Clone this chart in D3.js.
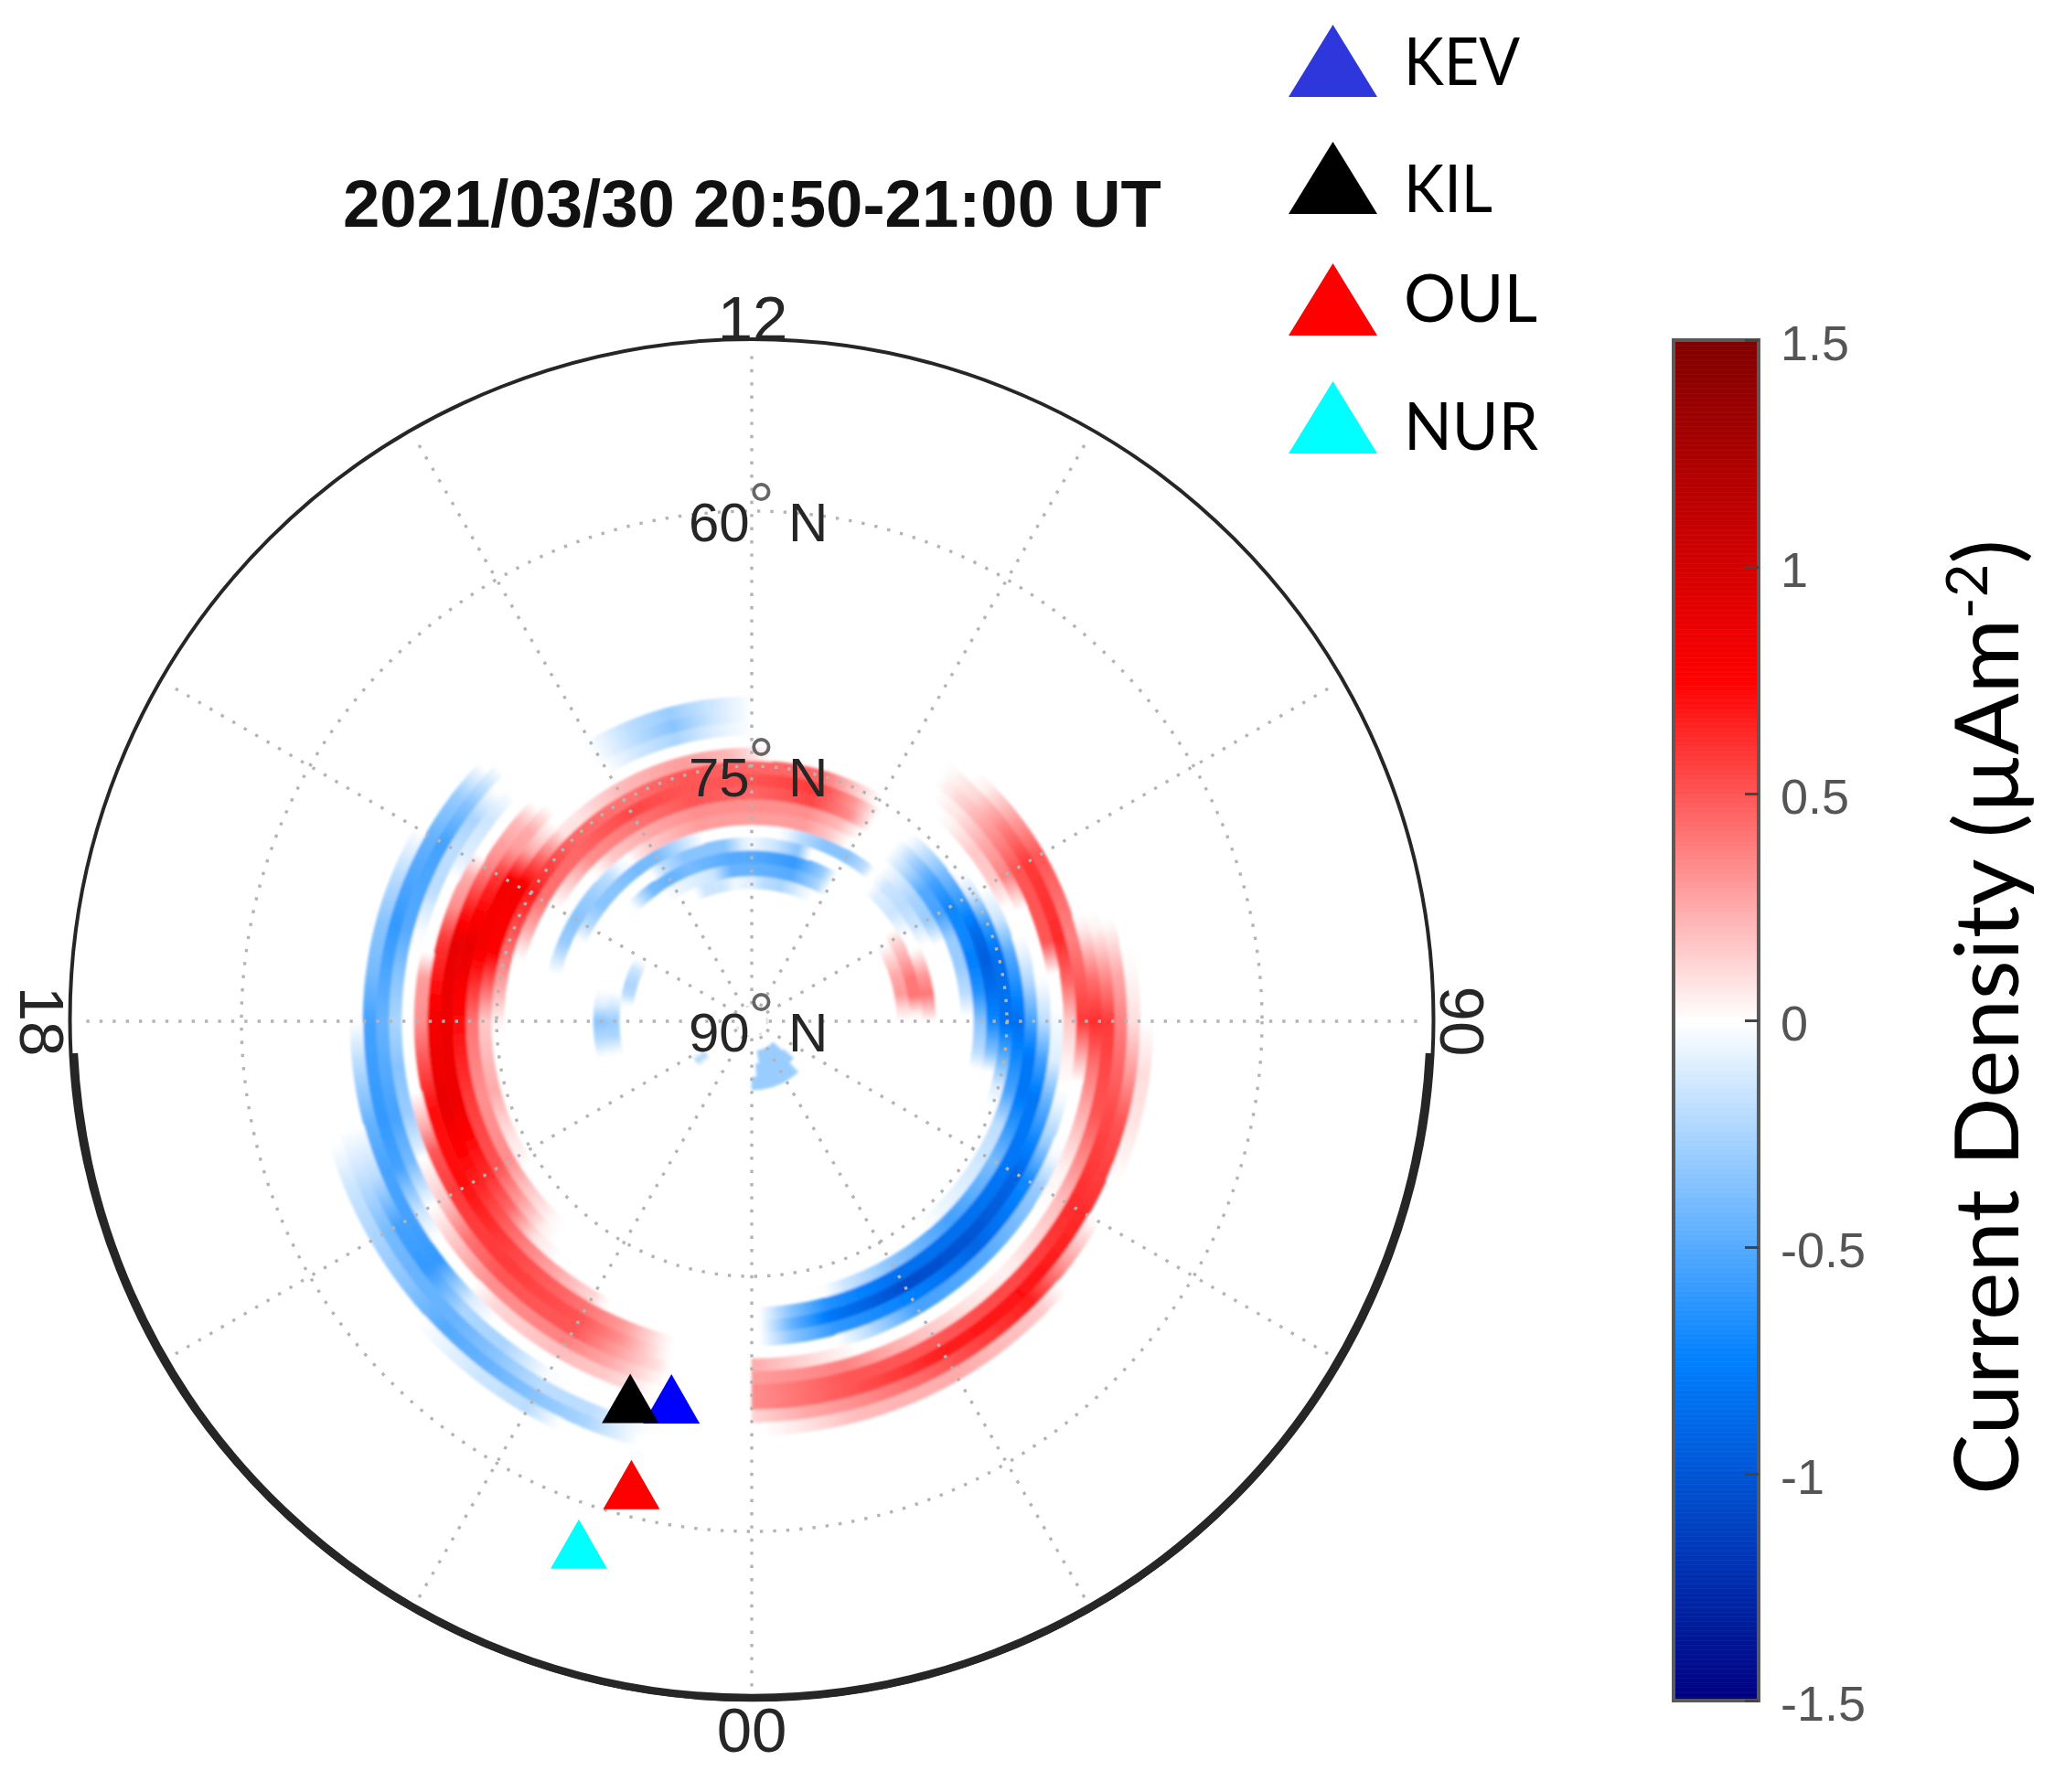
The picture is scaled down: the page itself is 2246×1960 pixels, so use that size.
<!DOCTYPE html>
<html><head><meta charset="utf-8">
<script src="https://cdnjs.cloudflare.com/ajax/libs/d3/7.8.5/d3.min.js"></script>
<style>html,body{margin:0;padding:0;background:#fff}svg{display:block}</style>
</head><body><svg id="c" width="2246" height="1960"></svg>
<script>
const titleText = "2021/03/30 20:50-21:00 UT";
const hourLabels = [["12",12],["18",18],["00",0],["06",6]];
const latLabels = [60,75,90];
const gridLats = [60,75];
const gridHours = d3.range(0,24,2);
const colorStops = [-1.5,-0.75,0,0.75,1.5];
const colorValues = ["#000080","#0080ff","#ffffff","#ff0000","#800000"];
const colorTicks = [-1.5,-1,-0.5,0,0.5,1,1.5];
const stationNames = ["KEV","KIL","OUL","NUR"];
const stationColors = ["#0000ff","#000000","#ff0000","#00ffff"];
const legendColors = ["#2d37dc","#000000","#ff0000","#00ffff"];
const stationLat = [67.3,66.7,61.85,57.63];
const stationMlt = [23.2,22.81,23.03,22.78];
const ringStep = 0.7527;
const ringLats = [87.85,87.10,86.34,82.58,81.83,81.08,80.32,79.57,78.82,78.06,77.31,76.56,75.81,75.05,74.30,73.55,72.80,72.04,71.29,70.54,69.78,69.03,68.28,67.53,66.77,66.02,65.27,64.52,63.76];
// each ring: [MLT hour, current density] samples
const ringSamples = [
 [[0.6,0],[0.75,-0.3],[3.05,-0.3],[3.15,0]],
 [[0.3,0],[0.4,-0.3],[3.2,-0.3],[3.35,0]],
 [[0,-0.3],[2.8,-0.3],[2.9,0],[20,0],[20.4,-0.25],[20.8,0]],
 [[16.1,0],[16.4,-0.15],[16.9,-0.25],[17.2,-0.2],[17.5,-0.02],[17.6,0]],
 [[10.3,0],[10.7,-0.1],[11.2,-0.25],[11.7,-0.2],[12,-0.1],[12.5,-0.05],[12.8,-0.15],[13.3,-0.15],[13.6,0],[17.2,0],[17.5,-0.1],[18,-0.3],[18.4,-0.25],[18.8,-0.05],[19,0]],
 [[6,0],[6.3,0.1],[6.7,0.3],[7.2,0.25],[7.7,0.1],[8,0],[10,0],[10.3,-0.25],[11,-0.5],[12,-0.45],[12.5,-0.45],[13,-0.15],[13.5,-0.1],[14,-0.05],[14.3,0],[17.2,0],[17.6,-0.1],[18,-0.35],[18.5,-0.2],[18.9,0]],
 [[6,0],[6.2,0.05],[6.6,0.4],[7,0.4],[7.5,0.25],[8,0.1],[8.2,0],[10,0],[10.3,-0.3],[11,-0.6],[11.5,-0.55],[12,-0.5],[12.5,-0.5],[13,-0.45],[13.5,-0.4],[14,-0.45],[14.5,-0.4],[15,-0.05],[15.1,0]],
 [[6,0],[6.3,0.2],[6.6,0.4],[7,0.3],[7.4,0.1],[7.6,0],[7.9,0],[8.1,-0.05],[8.5,-0.15],[9,-0.1],[9.25,0],[10.7,0],[11,-0.35],[11.5,-0.15],[12,-0.05],[12.2,-0.1],[12.6,-0.35],[13,-0.35],[13.5,-0.35],[14,-0.2],[14.3,0]],
 [[7.6,0],[8,-0.15],[8.5,-0.2],[9,-0.15],[9.3,0],[9.4,0],[9.6,-0.2],[10,-0.35],[10.5,-0.35],[11,-0.2],[11.3,-0.05],[11.5,0],[13,0],[13.5,-0.2],[14,-0.4],[14.5,-0.4],[15,-0.35],[15.5,-0.35],[16,-0.2],[16.3,-0.02],[16.4,0]],
 [[7.5,0],[7.8,-0.2],[8,-0.3],[8.5,-0.25],[9,-0.1],[9.3,0],[10.1,0],[10.5,0.16],[11,0.29],[12,0.29],[13,0.29],[14,0.16],[14.4,0.04],[14.45,0],[14.7,-0.05],[15,-0.2],[15.5,-0.3],[16,-0.35],[16.5,-0.3],[16.9,-0.1],[17.1,0]],
 [[6.1,0],[6.5,-0.2],[7,-0.3],[7.5,-0.3],[8,-0.55],[8.5,-0.5],[9,-0.2],[9.3,-0.05],[9.4,0],[10,0],[10.4,0.2],[11,0.33],[12,0.33],[13,0.33],[14,0.25],[14.7,0.16],[15,0.04],[15.2,0]],
 [[5.2,0],[5.5,-0.2],[6,-0.35],[6.5,-0.65],[7,-0.75],[7.5,-0.7],[8,-0.7],[8.5,-0.55],[9,-0.25],[9.3,-0.05],[9.4,0],[9.9,0],[10.3,0.33],[11,0.54],[12,0.45],[13,0.5],[14,0.41],[15,0.33],[15.5,0.16],[16,0]],
 [[5.2,0],[5.5,-0.35],[6,-0.7],[6.5,-0.85],[7,-0.95],[7.5,-0.85],[8,-0.6],[8.5,-0.4],[9,-0.15],[9.3,0],[9.9,0],[10.3,0.29],[11,0.58],[12,0.5],[13,0.5],[14,0.54],[15,0.45],[16,0.41],[16.5,0.25],[17,0]],
 [[4.7,0],[5,-0.1],[5.5,-0.5],[6,-0.85],[7,-0.85],[7.5,-0.6],[8,-0.15],[8.3,-0.02],[8.5,0],[10,0],[10.4,0.16],[11,0.45],[12,0.45],[13,0.5],[14,0.41],[15,0.45],[16,0.66],[17,0.41],[17.5,0.25],[18,0.04],[18.2,0]],
 [[2.7,0],[3,-0.05],[3.5,-0.1],[4,-0.15],[4.5,-0.2],[5,-0.55],[6,-0.85],[7,-0.5],[7.5,-0.15],[8,0],[11.7,0],[12.3,0.2],[13,0.29],[14,0.2],[14.7,0.08],[15,0.08],[15.5,0.45],[16,0.8],[17,0.75],[18,0.16],[19,0.25],[19.7,0.08],[20,0.04],[20.2,0]],
 [[1,0],[1.3,-0.15],[2,-0.35],[3,-0.55],[4,-0.4],[5,-0.8],[5.5,-0.8],[6,-0.55],[6.5,-0.25],[7,-0.05],[7.2,0],[7.6,0],[8,0.16],[8.5,0.16],[9,0.03],[9.2,0],[15,0],[15.5,0.25],[16,0.8],[17,0.8],[18,0.41],[19,0.33],[20,0.33],[20.5,0.16],[21,0.02],[21.2,0]],
 [[0.1,0],[0.5,-0.35],[1,-0.65],[2,-0.85],[3,-0.85],[4,-0.8],[5,-0.8],[5.5,-0.55],[6,-0.2],[6.5,-0.02],[6.7,0],[7.5,0],[8,0.37],[8.5,0.25],[9,0.08],[9.4,0],[12,0],[12.5,-0.1],[13,-0.25],[13.5,-0.15],[14,0],[14.9,0],[15.3,0.25],[15.6,0.29],[16,0.58],[17,0.88],[18,0.72],[19,0.58],[20,0.5],[20.6,0.25],[21,0.04],[21.2,0]],
 [[0.1,0],[0.5,-0.45],[1,-0.8],[2,-1.05],[3,-1],[4,-0.9],[4.5,-0.7],[5,-0.45],[5.5,-0.1],[6,-0.03],[6.2,0],[6.6,0],[7,0.5],[8,0.5],[8.5,0.33],[9,0.16],[9.5,0],[12,0],[12.5,-0.15],[13,-0.35],[13.5,-0.2],[14,-0.02],[14.1,0],[15,0],[15.3,0.2],[15.7,0.29],[16,0.37],[17,0.88],[18,0.85],[19,0.85],[20,0.62],[20.5,0.45],[21,0.08],[21.4,0]],
 [[0.1,0],[0.5,-0.35],[1,-0.6],[2,-0.75],[3,-0.9],[4,-0.7],[4.5,-0.3],[5,-0.05],[5.2,0],[5.5,0.04],[6,0.16],[6.5,0.45],[7,0.62],[8,0.58],[8.5,0.37],[9,0.12],[9.5,0],[12,0],[12.5,-0.15],[13,-0.3],[13.5,-0.2],[14,-0.02],[14.1,0],[15.9,0],[16.2,0.25],[16.6,0.33],[17,0.58],[18,0.8],[19,0.88],[20,0.66],[21,0.37],[21.5,0.25],[22,0.12],[22.2,0]],
 [[1,0],[1.2,-0.1],[2,-0.55],[3,-0.5],[4,-0.3],[4.4,-0.03],[4.6,0],[5.3,0],[5.5,0.16],[6,0.58],[7,0.37],[8,0.5],[8.5,0.29],[9,0.04],[9.2,0],[15.1,0],[15.5,-0.15],[16,-0.1],[16.3,0],[17.2,0],[17.5,0.29],[18,0.33],[19,0.7],[20,0.7],[21,0.54],[22,0.41],[22.5,0.29],[23,0.03],[23.1,0]],
 [[0,0.25],[1,0.04],[1.2,0],[3.8,0],[4.3,0.04],[5,0.25],[5.5,0.41],[6,0.62],[6.5,0.41],[7,0.08],[7.2,0],[15.2,0],[15.6,-0.25],[16,-0.2],[16.5,-0.2],[17,-0.02],[17.3,0],[18.8,0],[19.2,0.25],[19.5,0.5],[20,0.58],[21,0.58],[22,0.5],[22.5,0.33],[23,0.04],[23.1,0]],
 [[0,0.29],[1,0.37],[1.5,0.25],[2,0.16],[2.5,0.08],[3,0.04],[4,0.2],[5,0.5],[6,0.58],[6.5,0.33],[7,0.04],[7.2,0],[15,0],[15.5,-0.35],[16,-0.55],[17,-0.5],[17.5,-0.35],[18,-0.25],[18.5,-0.35],[19,-0.3],[19.4,-0.1],[19.5,0],[20,0.16],[20.5,0.41],[21,0.5],[22,0.5],[22.5,0.29],[23,0.08],[23.1,0]],
 [[0,0.33],[1,0.5],[2,0.5],[3,0.54],[4,0.62],[5,0.54],[6,0.37],[6.5,0.25],[7,0.02],[7.1,0],[15.1,0],[15.5,-0.3],[16,-0.45],[17,-0.6],[18,-0.45],[19,-0.55],[19.5,-0.4],[20,0],[20.3,0.12],[20.7,0.25],[21,0.33],[22,0.37],[22.5,0.25],[23,0.04],[23.1,0]],
 [[0,0.33],[1,0.5],[2,0.66],[3,0.7],[4,0.62],[5,0.5],[5.5,0.29],[6,0.1],[6.5,0.02],[6.8,0],[16,0],[16.5,-0.2],[17,-0.35],[17.5,-0.4],[18,-0.55],[19,-0.6],[19.5,-0.55],[20,-0.15],[20.3,0],[20.9,0],[21.2,0.12],[22,0.2],[22.5,0.16],[22.8,0.08],[23,0]],
 [[0,0.12],[0.5,0.25],[1,0.33],[2,0.5],[3,0.66],[3.5,0.29],[4,0],[4.4,0],[5,0.08],[5.5,0.1],[5.9,0.02],[6,0],[18,0],[18.4,-0.2],[19,-0.45],[19.5,-0.55],[20,-0.55],[20.5,-0.6],[21,-0.1],[21.3,0]],
 [[0.1,0],[0.5,0.08],[1,0.2],[2,0.25],[3,0.16],[3.3,0],[19,0],[19.5,-0.2],[20,-0.55],[20.5,-0.6],[21,-0.25],[21.5,-0.25],[22,-0.02],[22.3,0]],
 [[19,0],[19.4,-0.15],[20,-0.4],[20.5,-0.45],[21,-0.45],[21.5,-0.35],[22,-0.2],[22.5,-0.2],[23,-0.02],[23.1,0]],
 [[19.1,0],[19.5,-0.15],[20,-0.25],[20.5,-0.35],[21,-0.5],[21.5,-0.45],[22,-0.35],[22.5,-0.25],[22.9,-0.05],[23,0]],
 [[20.8,0],[21.5,-0.15],[22,-0.2],[22.3,0]]
];

const cx = 822, cy = 1117;
const svg = d3.select("#c");
const defs = svg.append("defs");
const addBlur = (id,s)=>defs.append("filter").attr("id",id).attr("filterUnits","userSpaceOnUse").attr("x",0).attr("y",0).attr("width",2246).attr("height",1960)
  .append("feGaussianBlur").attr("stdDeviation",s);
addBlur("soft",1.5);
addBlur("dots",0.6);

const rScale = d3.scaleLinear().domain([90,50]).range([0,744]);
const aScale = d3.scaleLinear().domain([0,24]).range([Math.PI, -Math.PI]);
const color = d3.scaleLinear().domain(colorStops).range(colorValues);
const polar = (lat,h)=>{const r=rScale(lat),a=aScale(h);return [cx+r*Math.sin(a),cy-r*Math.cos(a)];};
const arcGen = d3.arc();
const ink = "#262626", serif = "'Liberation Sans',Arial,sans-serif";

// current density rings
const rings = svg.append("g").attr("filter","url(#soft)").append("g").attr("transform",`translate(${cx},${cy})`);
ringSamples.forEach((samples,i)=>{
  const lat = ringLats[i];
  const r0 = rScale(lat+ringStep/2), r1 = rScale(lat-ringStep/2);
  d3.pairs(samples).forEach(([a,b])=>{
    if(a[1]===0 && b[1]===0) return;
    const n = Math.max(1,Math.ceil((b[0]-a[0])/0.04));
    const val = d3.interpolateNumber(a[1],b[1]);
    d3.range(n).forEach(j=>{
      const h0=a[0]+(b[0]-a[0])*j/n, h1=a[0]+(b[0]-a[0])*(j+1)/n, c=color(val((j+0.5)/n));
      const s=aScale(h0), e=aScale(h1)-0.003;
      rings.append("path").attr("d",arcGen({innerRadius:r0,outerRadius:r1,startAngle:Math.min(s,e),endAngle:s})).attr("fill",c).attr("stroke",c).attr("stroke-width",0.5);
    });
  });
});

// grid
const grid = svg.append("g").attr("filter","url(#dots)").attr("fill","none").attr("stroke","#b4b4b4").attr("stroke-width",3.4).attr("stroke-dasharray","3.4 11");
gridLats.forEach(l=>grid.append("circle").attr("cx",cx).attr("cy",cy).attr("r",rScale(l)));
grid.append("circle").attr("cx",cx).attr("cy",cy).attr("r",rScale(89.1)).attr("stroke","#dddddd").attr("stroke-width",2);
gridHours.forEach(h=>{
  const p0=polar(89,h), p1=polar(50.7,h);
  grid.append("line").attr("x1",p0[0]).attr("y1",p0[1]).attr("x2",p1[0]).attr("y2",p1[1]);
});

// outer circle
const rim = svg.append("g").attr("transform",`translate(${cx},${cy-2})`).attr("fill","none").attr("stroke","#262626");
rim.append("ellipse").attr("rx",rScale(50)+1.5).attr("ry",rScale(50)).attr("stroke-width",4);
rim.append("path").attr("stroke-width",8.5)
  .attr("d",d3.arc()({innerRadius:rScale(50)-2,outerRadius:rScale(50)-2,startAngle:Math.PI/2+0.05,endAngle:3*Math.PI/2-0.05}));

// hour labels
const hourPos = {12:[823,372,0],0:[822,1916,0],18:[22,1117,90],6:[1622,1117,-90]};
svg.append("g").selectAll("text").data(hourLabels).join("text")
  .attr("transform",d=>{const p=hourPos[d[1]];return `translate(${p[0]},${p[1]}) rotate(${p[2]})`;})
  .attr("text-anchor","middle").attr("font-family",serif).attr("font-size",69).attr("fill",ink).text(d=>d[0]);

// latitude labels
const latG = svg.append("g").attr("font-family",serif).attr("fill",ink);
latLabels.forEach(l=>{
  const y = cy - rScale(l) + 33;
  const t = latG.append("text").attr("y",y).attr("font-size",60);
  t.append("tspan").attr("x",753).text(l);
  t.append("tspan").attr("x",818).attr("y",y-14).attr("font-size",72).attr("fill","#666").text("°");
  t.append("tspan").attr("x",862).attr("y",y).text("N");
});

// stations
const tri = (x,y,w,h)=>{const p=d3.path();p.moveTo(x,y-h/2);p.lineTo(x+w/2,y+h/2);p.lineTo(x-w/2,y+h/2);p.closePath();return p.toString();};
svg.append("g").selectAll("path").data(stationNames).join("path")
  .attr("d",(d,i)=>{const p=polar(stationLat[i],stationMlt[i]);return tri(p[0],p[1],62,54);})
  .attr("fill",(d,i)=>stationColors[i]);

// title
svg.append("text").attr("x",375).attr("y",248).attr("font-family",serif).attr("font-weight","bold")
  .attr("font-size",72.5).attr("fill","#111").text(titleText);

// legend
const legendBase = [106,234,367,496], legendText=[93,232,352,492], legendW=[127,97,146,147];
const lg = svg.append("g");
stationNames.forEach((s,i)=>{
  lg.append("path").attr("d",tri(1457.5,legendBase[i]-39.5,97,79)).attr("fill",legendColors[i]);
  lg.append("text").attr("x",1535).attr("y",legendText[i]).attr("font-family","Lato,sans-serif")
    .attr("font-size",72).attr("fill","#000").attr("textLength",legendW[i]).attr("lengthAdjust","spacingAndGlyphs").text(s);
});

// colour bar
const barY = d3.scaleLinear().domain([-1.5,1.5]).range([1860,372]);
const bar = svg.append("g");
bar.selectAll("rect").data(d3.range(-1.5,1.5,0.0025)).join("rect")
  .attr("x",1830).attr("width",93).attr("y",d=>barY(d+0.0025)).attr("height",Math.abs(barY(0)-barY(0.0025))+0.6)
  .attr("fill",d=>color(d+0.00125));
bar.append("rect").attr("x",1830).attr("y",372).attr("width",93).attr("height",1488).attr("fill","none").attr("stroke","#5a5a5a").attr("stroke-width",4);
const axis = d3.axisRight(barY).tickValues(colorTicks).tickSize(-15).tickPadding(24).tickFormat(d=>String(d));
const ag = svg.append("g").attr("transform","translate(1923,0)").call(axis);
ag.select(".domain").remove();
ag.selectAll("line").attr("stroke","#444").attr("stroke-width",3);
ag.selectAll("text").attr("font-family",serif).attr("font-size",54).attr("fill","#555").attr("y",4);

// colour bar title
const yl = svg.append("text").attr("transform","translate(2207,1635) rotate(-90)")
  .attr("font-family","Lato,sans-serif").attr("font-size",97).attr("fill","#000")
  .attr("textLength",1045).attr("lengthAdjust","spacingAndGlyphs");
yl.append("tspan").text("Current Density (µAm");
yl.append("tspan").attr("dy",-34).attr("font-size",62).text("-2");
yl.append("tspan").attr("dy",34).text(")");
</script></body></html>
